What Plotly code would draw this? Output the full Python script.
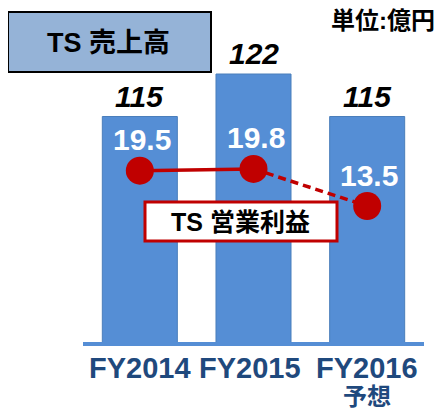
import plotly.graph_objects as go

categories = ["FY2014", "FY2015", "FY2016"]
tick_labels = ["FY2014", "FY2015", "FY2016"]
tick_sublabels = ["", "", "予想"]
sales = [115, 122, 115]
profit = [19.5, 19.8, 13.5]
sales_labels = ["115", "122", "115"]
profit_labels = ["19.5", "19.8", "13.5"]

# page body has an 8px margin: size the figure to the visible area
OFF = 8
W, H = 445 - OFF, 409 - OFF
FONT = "Liberation Sans, Arial, Noto Sans CJK JP, sans-serif"
RED = "#C00000"
BLUE = "#558ED5"
NAVY = "#1F497D"

def px_x(p):
    return (p - OFF) / W

def px_y(p):
    return 1 - (p - OFF) / H

x = [0, 1, 2]
fig = go.Figure()
fig.add_trace(go.Bar(x=x, y=sales, marker=dict(color=BLUE, line=dict(color="#4A7EBB", width=1)),
                     width=0.66, hoverinfo="skip", showlegend=False))
fig.add_trace(go.Scatter(x=x[:2], y=profit[:2], yaxis="y2", mode="lines",
                         line=dict(color=RED, width=3.5), showlegend=False, hoverinfo="skip"))
fig.add_trace(go.Scatter(x=x[1:], y=profit[1:], yaxis="y2", mode="lines",
                         line=dict(color=RED, width=3.5, dash="8px,5px"), showlegend=False, hoverinfo="skip"))
fig.add_trace(go.Scatter(x=x, y=profit, yaxis="y2", mode="markers",
                         marker=dict(color=RED, size=28), showlegend=False, hoverinfo="skip"))

annotations = []
for i, (v, t) in enumerate(zip(sales, sales_labels)):
    annotations.append(dict(x=x[i], y=v, xref="x", yref="y", text=f"<b><i>{t}</i></b>",
                            showarrow=False, yanchor="bottom", yshift=2,
                            font=dict(family=FONT, size=30, color="black")))
for i, (v, t) in enumerate(zip(profit, profit_labels)):
    annotations.append(dict(x=x[i], y=v, xref="x", yref="y2", text=f"<b>{t}</b>",
                            showarrow=False, yanchor="middle", yshift=31, xshift=2,
                            font=dict(family=FONT, size=30, color="white")))
label_shift = [0, -4, 0]
for i, t in enumerate(tick_labels):
    annotations.append(dict(x=x[i], y=px_y(368), xref="x", yref="paper", text=f"<b>{t}</b>",
                            showarrow=False, yanchor="middle", xshift=label_shift[i],
                            font=dict(family=FONT, size=29, color=NAVY)))
for i, t in enumerate(tick_sublabels):
    if t:
        annotations.append(dict(x=x[i], y=px_y(396), xref="x", yref="paper", text=f"<b>{t}</b>",
                                showarrow=False, yanchor="middle", xshift=0,
                                font=dict(family=FONT, size=24, color=NAVY)))
annotations.append(dict(x=px_x(108), y=px_y(43), xref="paper", yref="paper", text="<b>TS 売上高</b>",
                        showarrow=False, xanchor="center", yanchor="middle",
                        font=dict(family=FONT, size=27, color="black")))
annotations.append(dict(x=px_x(241), y=px_y(222), xref="paper", yref="paper", text="<b>TS 営業利益</b>",
                        showarrow=False, xanchor="center", yanchor="middle",
                        font=dict(family=FONT, size=25, color="black")))
annotations.append(dict(x=px_x(437), y=px_y(21), xref="paper", yref="paper", text="<b>単位:億円</b>",
                        showarrow=False, xanchor="right", yanchor="middle",
                        font=dict(family=FONT, size=24, color="black")))

shapes = [
    dict(type="rect", xref="paper", yref="paper", x0=px_x(8), x1=px_x(211), y0=px_y(72), y1=px_y(12),
         fillcolor="#95B3D7", line=dict(color="black", width=2)),
    dict(type="rect", xref="paper", yref="paper", x0=px_x(145), x1=px_x(337), y0=px_y(241), y1=px_y(202),
         fillcolor="white", line=dict(color=RED, width=3)),
]

PLOT_H = 342 - OFF
s1 = 42.5 / 7
v0 = 122 - 268 / s1
s2 = 35.3 / 6
w0 = 19.5 - 171.3 / s2

fig.update_layout(
    width=W, height=H, margin=dict(l=0, r=0, t=0, b=0),
    paper_bgcolor="white", plot_bgcolor="white",
    showlegend=False,
    xaxis=dict(domain=[px_x(83), px_x(424)], range=[-0.5, 2.5], tickmode="array", tickvals=x,
               showticklabels=False, showline=True, linecolor=BLUE, linewidth=4,
               showgrid=False, zeroline=False, ticks="", automargin=False),
    yaxis=dict(domain=[1 - PLOT_H / H, 1], range=[v0, v0 + PLOT_H / s1], visible=False, automargin=False),
    yaxis2=dict(overlaying="y", range=[w0, w0 + PLOT_H / s2], visible=False, automargin=False),
    annotations=annotations,
    shapes=shapes,
)

fig.write_html("out.html")
